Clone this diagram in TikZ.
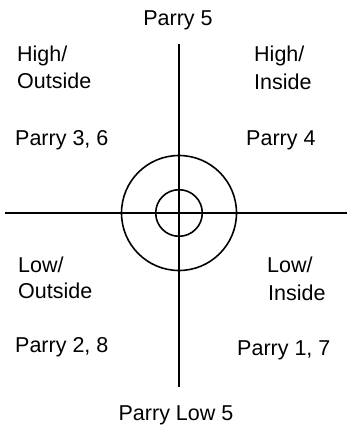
\documentclass[tikz,border=0pt]{standalone}
\usepackage{fontspec}
\setmainfont{Liberation Sans}
\begin{document}
\begin{tikzpicture}[x=1pt,y=-1pt,
  lbl/.style={inner sep=0pt,anchor=base west,font=\fontsize{21.5}{26}\selectfont},
  lblc/.style={inner sep=0pt,anchor=base,font=\fontsize{21.5}{26}\selectfont},
  axis/.style={line width=1.6pt},
  ring/.style={line width=1.6pt}]
\useasboundingbox (0,0) rectangle (347,427);
\coordinate (c) at (179,213);
\coordinate (top) at (179,44);
\coordinate (bot) at (179,387);
\coordinate (lft) at (5,213);
\coordinate (rgt) at (347,213);
\draw[axis] (top) -- (bot);
\draw[axis] (lft) -- (rgt);
\draw[ring] (c) circle[radius=57.5];
\draw[ring] (c) circle[radius=23.3];
\node[lblc] (p5) at (178,26) {Parry 5};
\node[lblc] (pl5) at (176,420) {Parry Low 5};
\node[lbl] (hl1) at (17,62) {High/};
\node[lbl] (hl2) at (17,89) {Outside};
\node[lbl] (p36) at (15,146) {Parry 3, 6};
\node[lbl] (hr1) at (254,62) {High/};
\node[lbl] (hr2) at (254,90) {Inside};
\node[lbl] (p4) at (246,146) {Parry 4};
\node[lbl] (ll1) at (18,272) {Low/};
\node[lbl] (ll2) at (18,298) {Outside};
\node[lbl] (p28) at (15,352) {Parry 2, 8};
\node[lbl] (lr1) at (267,272) {Low/};
\node[lbl] (lr2) at (268,300) {Inside};
\node[lbl] (p17) at (237,355) {Parry 1, 7};
\end{tikzpicture}
\end{document}
